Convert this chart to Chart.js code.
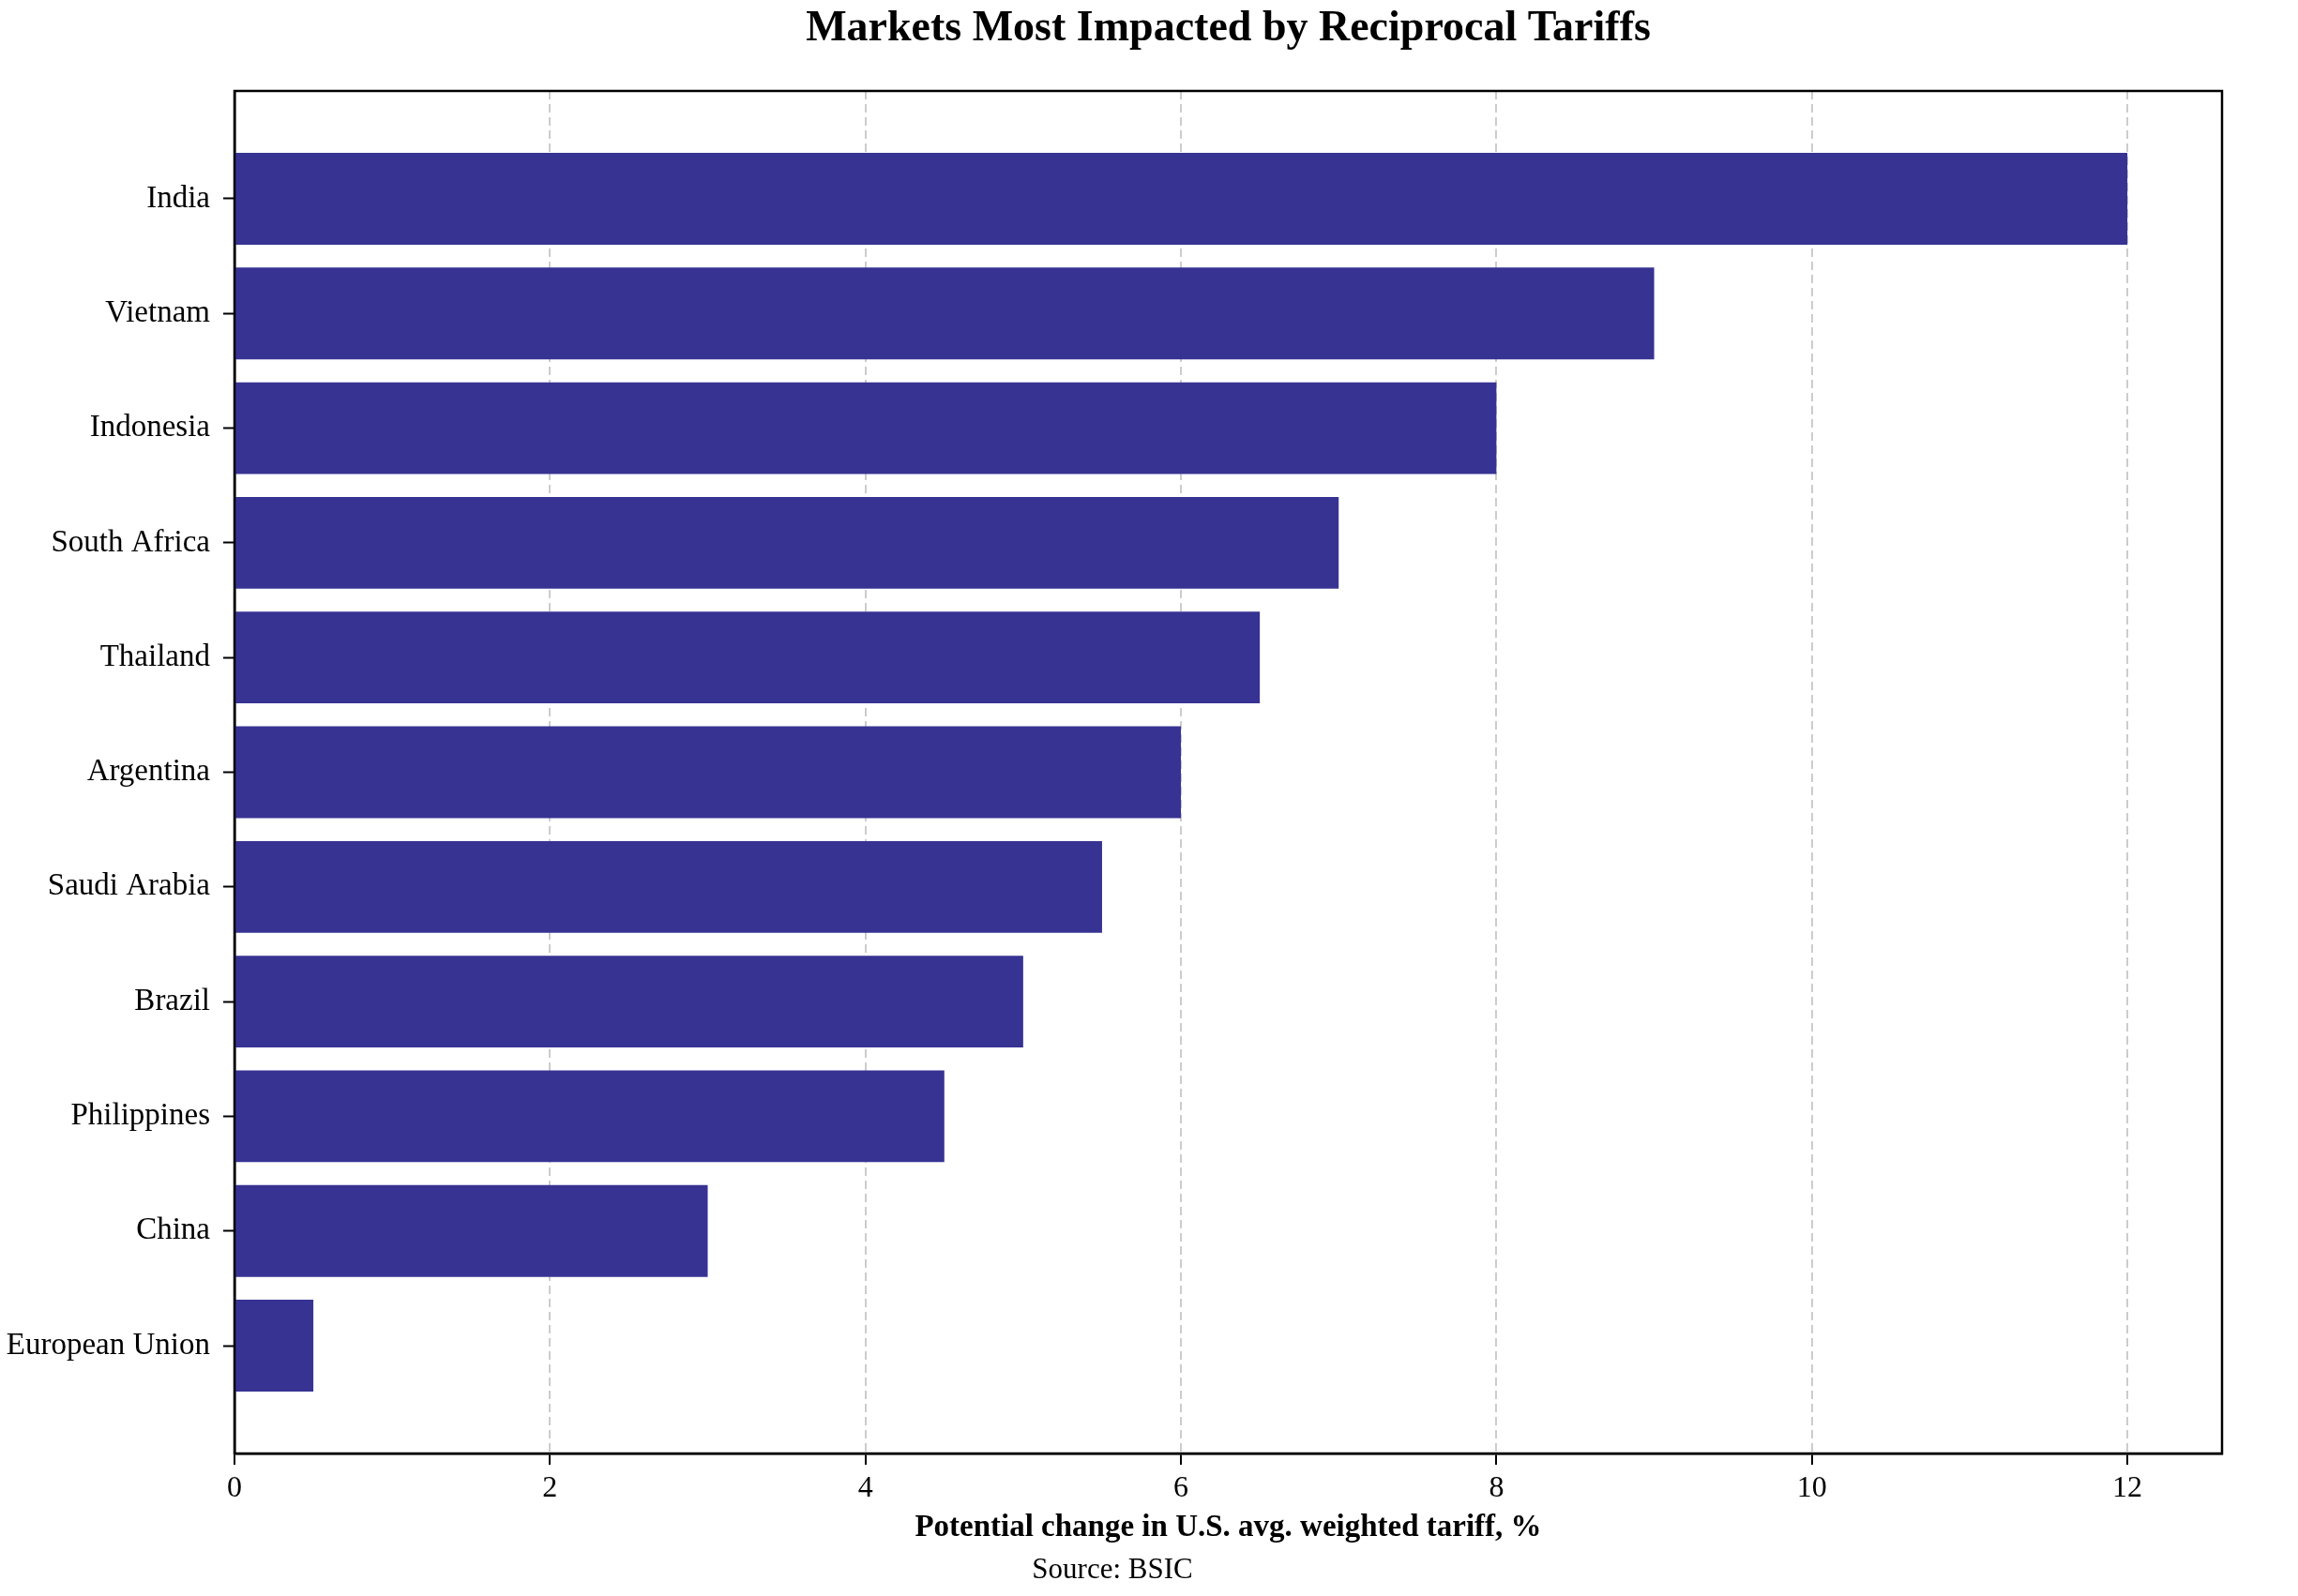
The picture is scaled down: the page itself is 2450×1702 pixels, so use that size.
<!DOCTYPE html>
<html>
<head>
<meta charset="utf-8">
<script src="https://cdn.jsdelivr.net/npm/chart.js@4"></script>
<style>
  body { margin: 0; background: #fff; }
  #wrap { width: 2450px; height: 1702px; }
</style>
</head>
<body>
<div id="wrap"><canvas id="chart"></canvas></div>
<script>
const countries = [
  "India", "Vietnam", "Indonesia", "South Africa", "Thailand", "Argentina",
  "Saudi Arabia", "Brazil", "Philippines", "China", "European Union"
];
const tariffChange = [12, 9, 8, 7, 6.5, 6, 5.5, 5, 4.5, 3, 0.5];
const xTicks = [0, 2, 4, 6, 8, 10, 12];
const title = "Markets Most Impacted by Reciprocal Tariffs";
const xLabel = "Potential change in U.S. avg. weighted tariff, %";
const source = "Source: BSIC";

const serif = '"Liberation Serif", "DejaVu Serif", serif';

// frame on all four sides + title and source line
const extras = {
  id: "extras",
  afterDraw(chart) {
    const { ctx, chartArea: a } = chart;
    ctx.save();
    ctx.setLineDash([]);
    ctx.strokeStyle = "#000";
    ctx.lineWidth = 2.5;
    ctx.strokeRect(a.left, a.top, a.right - a.left, a.bottom - a.top);
    ctx.fillStyle = "#000";
    ctx.textAlign = "center";
    ctx.textBaseline = "middle";
    ctx.font = "bold 46px " + serif;
    ctx.fillText(title, (a.left + a.right) / 2, 31);
    ctx.font = "31px " + serif;
    ctx.fillText(source, 1186, 1675);
    ctx.restore();
  },
};

new Chart(document.getElementById("chart"), {
  type: "bar",
  data: {
    datasets: [
      {
        data: tariffChange.map((v, i) => ({ x: v, y: i })),
        backgroundColor: "#373393",
        categoryPercentage: 1,
        barPercentage: 0.8,
      },
    ],
  },
  options: {
    indexAxis: "y",
    responsive: true,
    maintainAspectRatio: false,
    animation: false,
    layout: { padding: { top: 97, right: 81, bottom: 0, left: 0 } },
    plugins: { legend: { display: false }, tooltip: { enabled: false } },
    scales: {
      x: {
        type: "linear",
        min: 0,
        max: 12.6,
        afterFit: (s) => { s.height = 152; },
        afterBuildTicks: (s) => { s.ticks = xTicks.map((v) => ({ value: v })); },
        ticks: { color: "#000", padding: 6, font: { family: serif, size: 32 } },
        grid: {
          color: "#cccccc",
          lineWidth: 2,
          drawTicks: true,
          tickLength: 12,
          tickColor: "#000",
          tickWidth: 2,
          tickBorderDash: [],
        },
        border: { display: true, color: "#000", width: 2.5, dash: [9, 5] },
        title: {
          display: true,
          text: xLabel,
          color: "#000",
          padding: { top: 0, bottom: 53 },
          font: { family: serif, size: 33, weight: "bold" },
        },
      },
      y: {
        type: "linear",
        min: -0.94,
        max: 10.94,
        reverse: true,
        offset: false,
        afterFit: (s) => { s.width = 250; },
        afterBuildTicks: (s) => { s.ticks = countries.map((c, i) => ({ value: i })); },
        ticks: {
          color: "#000",
          padding: 14,
          font: { family: serif, size: 33 },
          callback: (v) => countries[v],
        },
        grid: {
          offset: false,
          drawOnChartArea: false,
          drawTicks: true,
          tickLength: 12,
          tickColor: "#000",
          tickWidth: 2,
        },
        border: { display: true, color: "#000", width: 2.5 },
      },
    },
  },
  plugins: [extras],
});
</script>
</body>
</html>
